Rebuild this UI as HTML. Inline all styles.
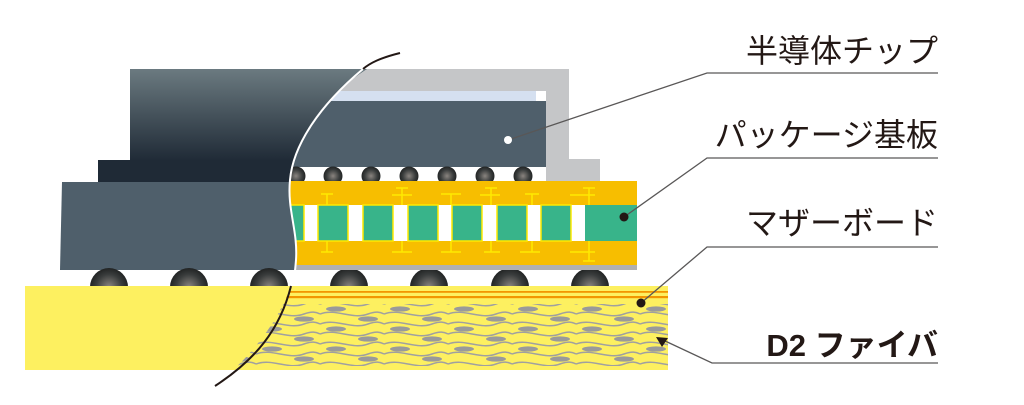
<!DOCTYPE html>
<html><head><meta charset="utf-8"><style>
html,body{margin:0;padding:0;background:#fff;width:1024px;height:405px;overflow:hidden}
text{font-family:"Liberation Sans","Noto Sans CJK JP",sans-serif;fill:#231815}
</style></head><body>
<svg width="1024" height="405" viewBox="0 0 1024 405" xmlns="http://www.w3.org/2000/svg">
<defs>
<linearGradient id="g1" x1="0" y1="0" x2="0" y2="1"><stop offset="0" stop-color="#6b7a80"/><stop offset="1" stop-color="#1f2a36"/></linearGradient>
<radialGradient id="ball" cx="0.5" cy="0.5" r="0.55"><stop offset="0" stop-color="#8a8580"/><stop offset="0.6" stop-color="#3a3d3d"/><stop offset="1" stop-color="#1a1c1c"/></radialGradient>
<clipPath id="cl"><path d="M0,0 L400,0 L400,53 C340,75 295,130 290,180 C287,210 298,230 296,260 C294,300 260,350 215,386 L0,405Z"/></clipPath>
<clipPath id="cr"><path d="M1024,0 L400,0 L400,53 C340,75 295,130 290,180 C287,210 298,230 296,260 C294,300 260,350 215,386 L1024,405Z"/></clipPath>
<pattern id="fib" x="0" y="304" width="64" height="20" patternUnits="userSpaceOnUse">
<path d="M0,10 C16,4 32,16 48,10 C56,7 60,8 64,10" stroke="#a0a0a0" stroke-width="1.5" fill="none"/>
<path d="M0,20 C16,14 32,26 48,20 C56,17 60,18 64,20" stroke="#a0a0a0" stroke-width="1.5" fill="none"/>
<path d="M0,0 C16,-6 32,6 48,0 C56,-3 60,-2 64,0" stroke="#a0a0a0" stroke-width="1.5" fill="none"/>
<ellipse cx="16" cy="5" rx="10" ry="2.6" fill="#9a9a9a"/>
<ellipse cx="48" cy="15" rx="10" ry="2.6" fill="#9a9a9a"/>
</pattern>
</defs>
<g clip-path="url(#cl)">
<rect x="130" y="69" width="300" height="92" fill="url(#g1)"/>
<rect x="98" y="160" width="330" height="23" fill="#1f2a36"/>
<polygon points="62,182 430,182 430,270 60,270" fill="#4f5f6b"/>
<circle cx="109" cy="287" r="19" fill="url(#ball)"/>
<circle cx="189" cy="287" r="19" fill="url(#ball)"/>
<circle cx="269" cy="287" r="19" fill="url(#ball)"/>
</g>
<g clip-path="url(#cr)">
<path d="M280,69 H569 V159 H600 V182 H546 V101 H280Z" fill="#c5c6c8"/>
<rect x="280" y="91" width="266" height="10" fill="#d5e0f0"/>
<rect x="536" y="91" width="10" height="10" fill="#fff"/>
<rect x="280" y="101" width="266" height="66" fill="#4f5f6b"/>
<g fill="url(#ball)">
<circle cx="296" cy="176" r="9.5"/><circle cx="333" cy="176" r="9.5"/><circle cx="371" cy="176" r="9.5"/><circle cx="409" cy="176" r="9.5"/><circle cx="447" cy="176" r="9.5"/><circle cx="485" cy="176" r="9.5"/><circle cx="523" cy="176" r="9.5"/>
</g>
<g fill="url(#ball)">
<circle cx="349" cy="287" r="19"/><circle cx="429" cy="287" r="19"/><circle cx="510" cy="287" r="19"/><circle cx="590" cy="287" r="19"/>
</g>
<rect x="270" y="181" width="367" height="84" fill="#f7be00"/>
<rect x="270" y="265" width="367" height="5" fill="#b0b0b0"/>
<rect x="270" y="205" width="367" height="36" fill="#fff"/>
<g fill="#38b48a" stroke="#ffea00" stroke-width="1.5">
<rect x="274" y="205" width="30" height="36"/><rect x="318" y="205" width="30" height="36"/><rect x="363" y="205" width="30" height="36"/><rect x="408" y="205" width="30" height="36"/><rect x="452" y="205" width="30" height="36"/><rect x="497" y="205" width="30" height="36"/><rect x="541" y="205" width="30" height="36"/><rect x="585" y="205" width="52" height="36" stroke="none"/>
</g>
<g stroke="#ffea00" stroke-width="1.5" fill="none">
<path d="M321,194 h12 M327,194 v11 M321,252 h12 M327,241 v11"/>
<path d="M396,188 h12 M402,188 v17 M392,195 h20 M392,252 h20 M402,241 v11"/>
<path d="M441,194 h20 M451,194 v11 M441,252 h20 M451,241 v11"/>
<path d="M485,188 h12 M491,188 v17 M480,195 h20 M484,252 h16 M491,241 v11"/>
<path d="M525,194 h14 M532,194 v11 M520,252 h20 M532,241 v11"/>
<path d="M583,188 h12 M589,188 v17 M570,195 h25 M570,252 h25 M589,241 v20 M583,261 h12"/>
</g>
</g>
<!-- motherboard -->
<rect x="25" y="286" width="643" height="84" fill="#fdf060"/>
<g clip-path="url(#cr)">
<rect x="200" y="304" width="468" height="62" fill="url(#fib)"/>
<rect x="200" y="291" width="468" height="1.8" fill="#f29600"/>
<rect x="200" y="296" width="468" height="2.2" fill="#f29600"/>
</g>
<!-- curve -->
<path d="M400,53 C380,58 370,63 363,69" stroke="#231815" stroke-width="2" fill="none"/>
<path d="M363,69 C320,105 293,145 290,180 C287,210 298,230 296,260 C295,273 294,280 291,286" stroke="#fff" stroke-width="2" fill="none"/>
<path d="M291,286 C280,330 255,360 215,386" stroke="#231815" stroke-width="2" fill="none"/>
<!-- leaders -->
<g stroke="#595757" stroke-width="1.3" fill="none">
<path d="M508,140 L707,73 H938"/>
<path d="M624,217 L707,158 H938"/>
<path d="M641,303 L707,247 H938"/>
<path d="M663,340 L712,363 H938"/>
</g>
<circle cx="508" cy="140" r="4" fill="#fff"/>
<circle cx="624" cy="217" r="4.5" fill="#231815"/>
<circle cx="641" cy="303" r="4.5" fill="#231815"/>
<polygon points="656,337 668,338 662,347" fill="#231815"/>
<text x="938" y="62" font-size="32" text-anchor="end">半導体チップ</text>
<text x="938" y="146" font-size="32" text-anchor="end">パッケージ基板</text>
<text x="938" y="234" font-size="32" text-anchor="end">マザーボード</text>
<text x="938" y="356" font-size="31" font-weight="bold" text-anchor="end">D2 ファイバ</text>
</svg>
</body></html>
